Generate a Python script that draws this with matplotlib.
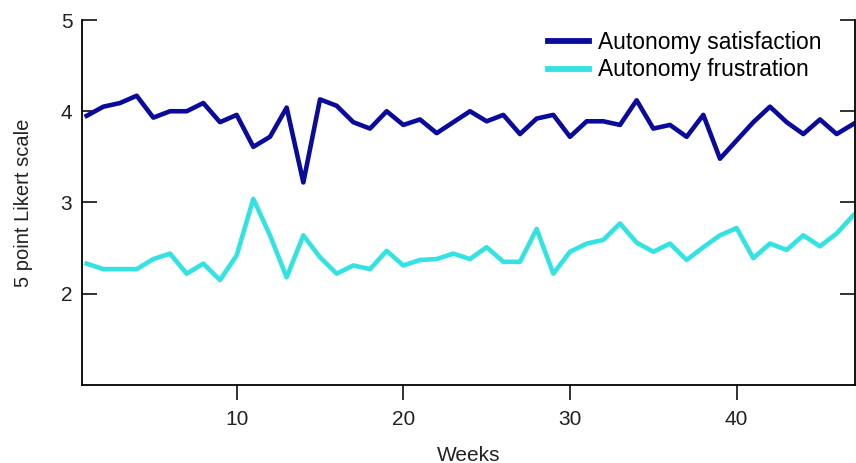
import numpy as np
import matplotlib
matplotlib.use("Agg")
import matplotlib.pyplot as plt

plt.rcParams['font.family'] = ['Liberation Sans', 'DejaVu Sans']

# weekly means
weeks = np.arange(1, 48)
satisfaction = [3.95, 4.05, 4.09, 4.17, 3.93, 4.00, 4.00, 4.09, 3.88, 3.96,
                3.61, 3.72, 4.04, 3.22, 4.13, 4.06, 3.88, 3.81, 4.00, 3.85,
                3.91, 3.76, 3.88, 4.00, 3.89, 3.96, 3.75, 3.92, 3.96, 3.72,
                3.89, 3.89, 3.85, 4.12, 3.81, 3.85, 3.72, 3.96, 3.48, 3.68,
                3.88, 4.05, 3.88, 3.75, 3.91, 3.75, 3.86]
frustration = [2.33, 2.27, 2.27, 2.27, 2.38, 2.44, 2.22, 2.33, 2.15, 2.42,
               3.04, 2.64, 2.18, 2.64, 2.40, 2.22, 2.31, 2.27, 2.47, 2.31,
               2.37, 2.38, 2.44, 2.38, 2.51, 2.35, 2.35, 2.71, 2.22, 2.46,
               2.55, 2.59, 2.77, 2.56, 2.46, 2.55, 2.37, 2.51, 2.64, 2.72,
               2.39, 2.55, 2.48, 2.64, 2.52, 2.66, 2.86]

fig = plt.figure(figsize=(8.56, 4.63), dpi=100)
ax = fig.add_axes([0.0958, 0.1685, 0.9030, 0.7883])

ax.plot(weeks, satisfaction, color='#0a0a9c', lw=3.3, label='Autonomy satisfaction')
ax.plot(weeks, frustration, color='#33e3e3', lw=3.3, label='Autonomy frustration')

ax.set_xlim(0.72, 47.1)
ax.set_ylim(1, 5)
ax.set_xticks([10, 20, 30, 40])
ax.set_yticks([2, 3, 4, 5])

ax.spines['top'].set_visible(False)
for s in ['left', 'right', 'bottom']:
    ax.spines[s].set_linewidth(1.3)

ax.tick_params(axis='x', direction='out', length=11, width=1.3, pad=7, labelsize=15, colors='#222222')
ax.tick_params(axis='y', direction='in', length=11, width=1.3, pad=7, labelsize=15,
               right=True, colors='#222222')

ax.set_xlabel('Weeks', fontsize=15, color='#222222', labelpad=12)
ax.set_ylabel('5 point Likert scale', fontsize=14.5, color='#222222', labelpad=20)

leg = ax.legend(loc='upper right', bbox_to_anchor=(0.971, 1.0), frameon=False, fontsize=16.4,
                handlelength=1.8, handletextpad=0.4, labelspacing=0.18, borderaxespad=0.1)
for line in leg.get_lines():
    line.set_linewidth(4.2)

fig.savefig('out.png', dpi=100)
